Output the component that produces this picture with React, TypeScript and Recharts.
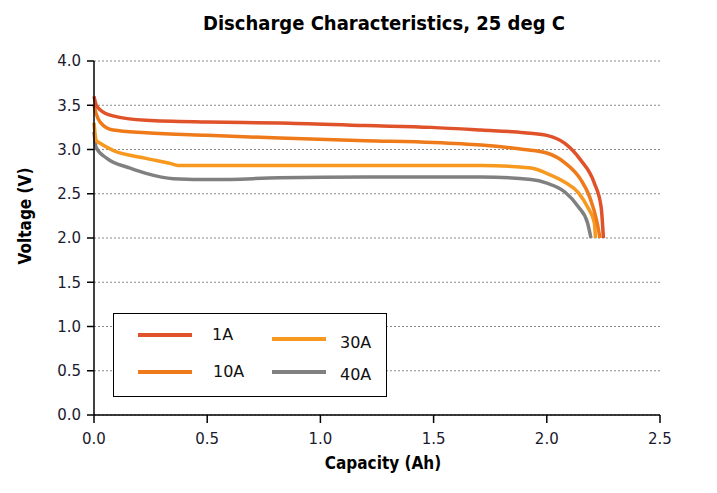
import React from "react";
import {
  LineChart,
  Line,
  XAxis,
  YAxis,
  CartesianGrid,
} from "recharts";

// Discharge curves, capacity (Ah) vs voltage (V)
const cap1A = [0, 0.01, 0.027, 0.084, 0.23, 0.5, 0.82, 1.2, 1.49, 1.71, 1.9, 2.0, 2.08, 2.15, 2.21, 2.24, 2.25];
const volt1A = [3.6, 3.5, 3.45, 3.38, 3.33, 3.31, 3.3, 3.27, 3.25, 3.22, 3.19, 3.16, 3.07, 2.88, 2.62, 2.35, 2.0];

const cap10A = [0, 0.01, 0.027, 0.084, 0.23, 0.5, 0.82, 1.2, 1.5, 1.71, 1.9, 2.0, 2.08, 2.15, 2.19, 2.22, 2.235];
const volt10A = [3.5, 3.4, 3.31, 3.22, 3.19, 3.16, 3.13, 3.1, 3.08, 3.05, 3.0, 2.96, 2.85, 2.66, 2.46, 2.2, 2.0];

const cap30A = [0, 0.01, 0.027, 0.084, 0.23, 0.34, 0.37, 0.6, 1.0, 1.4, 1.71, 1.93, 2.0, 2.08, 2.14, 2.18, 2.21, 2.215];
const volt30A = [3.3, 3.1, 3.07, 2.99, 2.9, 2.84, 2.82, 2.82, 2.82, 2.82, 2.82, 2.79, 2.73, 2.63, 2.51, 2.35, 2.17, 2.0];

const cap40A = [0, 0.01, 0.057, 0.16, 0.23, 0.35, 0.53, 0.82, 1.2, 1.5, 1.71, 1.93, 2.0, 2.08, 2.14, 2.18, 2.195];
const volt40A = [3.2, 3.02, 2.9, 2.79, 2.73, 2.67, 2.66, 2.68, 2.69, 2.69, 2.69, 2.66, 2.62, 2.52, 2.35, 2.17, 2.0];

const xTicks = [0, 0.5, 1.0, 1.5, 2.0, 2.5];
const yTicks = [0, 0.5, 1.0, 1.5, 2.0, 2.5, 3.0, 3.5, 4.0];

const toPoints = (caps: number[], volts: number[]) =>
  caps.map((c, i) => ({ cap: c, v: volts[i] }));

const series = [
  { name: "1A", color: "#E0522A", data: toPoints(cap1A, volt1A) },
  { name: "10A", color: "#EE7A1A", data: toPoints(cap10A, volt10A) },
  { name: "30A", color: "#F7981F", data: toPoints(cap30A, volt30A) },
  { name: "40A", color: "#808080", data: toPoints(cap40A, volt40A) },
];

const boldFont =
  "'Liberation Sans Narrow', 'DejaVu Sans Condensed', 'Roboto Condensed', 'DejaVu Sans', sans-serif";
const tickFont = "'DejaVu Sans', sans-serif";

// legend laid out in two columns like the original box
const legendPos: Record<string, { lx: number; ly: number; tx: number; ty: number }> = {
  "1A": { lx: 24, ly: 21, tx: 98, ty: 21 },
  "10A": { lx: 24, ly: 58, tx: 99, ty: 58 },
  "30A": { lx: 158, ly: 25, tx: 226, ty: 29 },
  "40A": { lx: 158, ly: 58, tx: 226, ty: 61 },
};

function LegendBox() {
  return (
    <div
      style={{
        position: "absolute",
        left: 113,
        top: 313,
        width: 272,
        height: 82,
        border: "1.5px solid #000",
        background: "#fff",
        fontFamily: tickFont,
        fontSize: 16,
        color: "#111",
      }}
    >
      {series.map((s) => {
        const p = legendPos[s.name];
        return (
          <React.Fragment key={s.name}>
            <div
              style={{
                position: "absolute",
                left: p.lx,
                top: p.ly - 2,
                width: 54,
                height: 4,
                background: s.color,
              }}
            />
            <div
              style={{
                position: "absolute",
                left: p.tx,
                top: p.ty - 10,
                lineHeight: "20px",
              }}
            >
              {s.name}
            </div>
          </React.Fragment>
        );
      })}
    </div>
  );
}

export default function App() {
  return (
    <div
      style={{
        position: "absolute",
        left: 0,
        top: 0,
        width: 717,
        height: 493,
        background: "#fff",
      }}
    >
      <div
        style={{
          position: "absolute",
          left: 0,
          width: 717,
          top: 11,
          textAlign: "center",
          paddingLeft: 51,
          boxSizing: "border-box",
          fontFamily: boldFont,
          fontWeight: 700,
          fontSize: 20,
          color: "#000",
        }}
      >
        Discharge Characteristics, 25 deg C
      </div>
      <LineChart
        width={717}
        height={493}
        margin={{ top: 61, right: 57, bottom: 28, left: 34 }}
        style={{ position: "absolute", left: 0, top: 0 }}
      >
        <CartesianGrid
          vertical={false}
          stroke="#8a8a8a"
          strokeDasharray="2 2"
          strokeWidth={1.2}
        />
        <XAxis
          dataKey="cap"
          type="number"
          domain={[0, 2.5]}
          ticks={xTicks}
          tickFormatter={(v: number) => v.toFixed(1)}
          allowDuplicatedCategory={false}
          height={50}
          tickSize={8}
          tickMargin={10}
          axisLine={{ stroke: "#000", strokeWidth: 1.5 }}
          tickLine={{ stroke: "#000", strokeWidth: 1.5 }}
          tick={{ fill: "#1a1a2e", fontSize: 15, fontFamily: tickFont }}
        />
        <YAxis
          type="number"
          domain={[0, 4]}
          ticks={yTicks}
          tickFormatter={(v: number) => v.toFixed(1)}
          width={60}
          tickSize={7}
          tickMargin={6}
          axisLine={{ stroke: "#000", strokeWidth: 1.5 }}
          tickLine={{ stroke: "#000", strokeWidth: 1.5 }}
          tick={{ fill: "#1a1a2e", fontSize: 15, fontFamily: tickFont }}
        />
        {[...series].reverse().map((s) => (
          <Line
            key={s.name}
            data={s.data}
            dataKey="v"
            name={s.name}
            type="monotone"
            stroke={s.color}
            strokeWidth={3.5}
            dot={false}
            activeDot={false}
            isAnimationActive={false}
          />
        ))}
      </LineChart>
      <div
        style={{
          position: "absolute",
          left: 322,
          width: 122,
          top: 453,
          textAlign: "center",
          fontFamily: boldFont,
          fontWeight: 700,
          fontSize: 17,
          color: "#000",
          whiteSpace: "nowrap",
        }}
      >
        Capacity (Ah)
      </div>
      <div
        style={{
          position: "absolute",
          left: 25,
          top: 216,
          transform: "translate(-50%, -50%) rotate(-90deg)",
          fontFamily: boldFont,
          fontWeight: 700,
          fontSize: 17,
          color: "#000",
          whiteSpace: "nowrap",
        }}
      >
        Voltage (V)
      </div>
      <LegendBox />
    </div>
  );
}
